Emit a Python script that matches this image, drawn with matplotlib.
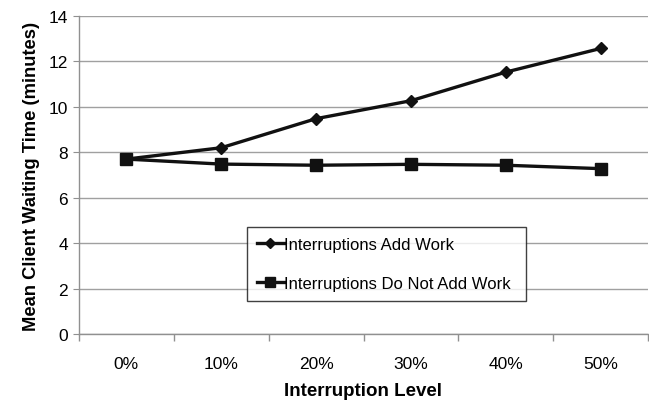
import matplotlib
matplotlib.use("Agg")
import matplotlib.pyplot as plt
import numpy as np

plt.rcParams['font.family'] = ['Liberation Sans', 'DejaVu Sans']

levels = ["0%", "10%", "20%", "30%", "40%", "50%"]
add_work = [7.70, 8.20, 9.48, 10.27, 11.53, 12.57]
no_add_work = [7.70, 7.48, 7.43, 7.47, 7.43, 7.28]
y_ticks = [0, 2, 4, 6, 8, 10, 12, 14]

fig = plt.figure(figsize=(6.49, 4.06), dpi=100)
ax = fig.add_axes([79 / 649, 1 - 335 / 406, 569 / 649, 318 / 406])

x = np.arange(len(levels))
ax.plot(x, add_work, color="#111111", lw=2.4, marker="D", ms=6.5,
        label="Interruptions Add Work", zorder=3)
ax.plot(x, no_add_work, color="#111111", lw=2.4, marker="s", ms=8.5,
        label="Interruptions Do Not Add Work", zorder=3)

ax.set_xlim(-0.5, len(levels) - 0.5)
ax.set_ylim(0, 14)
ax.set_yticks(y_ticks)
ax.yaxis.grid(True, color="#a0a0a0", lw=1)
ax.set_axisbelow(True)

# category boundaries carry the tick marks, labels sit between them
ax.set_xticks(np.arange(-0.5, len(levels), 1.0))
ax.set_xticklabels([])
ax.set_xticks(x, minor=True)
ax.set_xticklabels(levels, minor=True)
ax.tick_params(axis="x", which="major", length=5, color="#909090", width=1)
ax.tick_params(axis="x", which="minor", length=0, pad=16, labelsize=12.5)
ax.tick_params(axis="y", length=4, color="#909090", labelsize=12.5, pad=4)

for side in ("top", "right"):
    ax.spines[side].set_visible(False)
for side in ("left", "bottom"):
    ax.spines[side].set_color("#909090")
    ax.spines[side].set_linewidth(1)

ax.set_xlabel("Interruption Level", fontsize=13.5, fontweight="bold", labelpad=8)
ax.set_ylabel("Mean Client Waiting Time (minutes)", fontsize=13.2, fontweight="bold", labelpad=6)

leg = ax.legend(loc="lower left", bbox_to_anchor=(0.295, 0.104, 0.491, 0.248),
                mode="expand", fontsize=12.0, frameon=True, fancybox=False,
                edgecolor="#111111", handlelength=1.6, handletextpad=0.05,
                labelspacing=1.45, borderpad=0.6, borderaxespad=0,
                markerscale=0.85)
leg.get_frame().set_linewidth(1)

fig.savefig("out.png", dpi=100)
